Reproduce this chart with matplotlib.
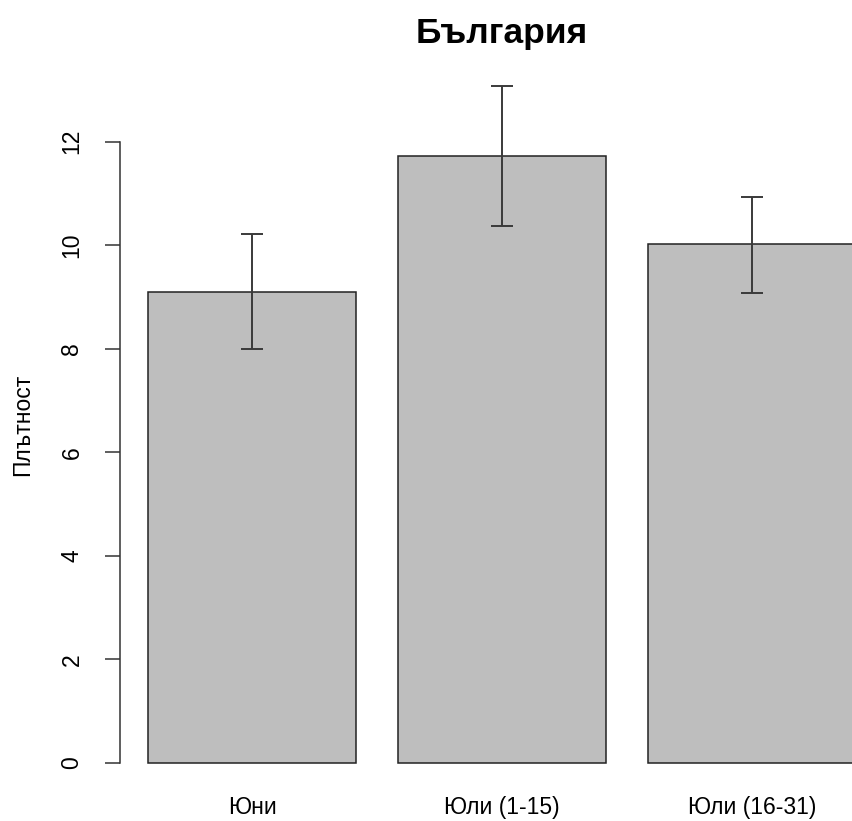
import matplotlib

matplotlib.use("Agg")
import matplotlib.pyplot as plt
import numpy as np

plt.rcParams["font.family"] = ["Liberation Sans", "DejaVu Sans"]

# data
labels = ["Юни", "Юли (1-15)", "Юли (16-31)"]
means = [9.10, 11.72, 10.02]
lower = [8.00, 10.37, 9.07]
upper = [10.21, 13.08, 10.94]

W, H = 853, 821


def main():
    fig = plt.figure(figsize=(W / 100, H / 100), dpi=100, facecolor="white")

    # plot region placed in pixels (R barplot style, bar width 1, space 0.2)
    y_lo, y_hi = -0.3, 13.6
    px_unit_y = 51.75
    zero_px = 762.7
    bot_px = zero_px + (0 - y_lo) * px_unit_y
    top_px = zero_px - y_hi * px_unit_y
    left_px = 120
    ax = fig.add_axes([left_px / W, (H - bot_px) / H, 1 - left_px / W, (bot_px - top_px) / H])

    x = 0.7 + 1.2 * np.arange(len(means))
    ax.bar(x, means, width=1.0, color="#bebebe", edgecolor="#222222", linewidth=1.1, zorder=2)

    m = np.array(means)
    yerr = np.vstack([m - np.array(lower), np.array(upper) - m])
    ax.errorbar(x, m, yerr=yerr, fmt="none", ecolor="#3a3a3a", elinewidth=1.4,
                capsize=7.8, capthick=1.4, zorder=3)

    px_unit_x = 208.0
    ax.set_xlim(0.7 - (252.5 - left_px) / px_unit_x, 0.7 + (W - 252.5) / px_unit_x)
    ax.set_ylim(y_lo, y_hi)

    for s in ("top", "right", "bottom"):
        ax.spines[s].set_visible(False)
    ax.spines["left"].set_bounds(0, 12)
    ax.spines["left"].set_color("#333333")
    ax.spines["left"].set_linewidth(1.1)

    ax.set_yticks(np.arange(0, 13, 2))
    ax.tick_params(axis="y", length=10.8, width=1.1, color="#333333", pad=15.5,
                   labelsize=16.5, labelrotation=90)
    for t in ax.get_yticklabels():
        t.set_va("center")

    ax.set_xticks(x)
    ax.set_xticklabels(labels)
    ax.tick_params(axis="x", length=0, pad=12.5, labelsize=16.5)

    fig.text(502 / W, 1 - 43.5 / H, "България", ha="center", va="baseline",
             fontsize=25.5, fontweight="bold")
    fig.text(23 / W, 1 - 425 / H, "Плътност", ha="center", va="center",
             rotation=90, fontsize=16.5)

    fig.savefig("out.png", dpi=100, facecolor="white")


if __name__ == "__main__":
    main()
